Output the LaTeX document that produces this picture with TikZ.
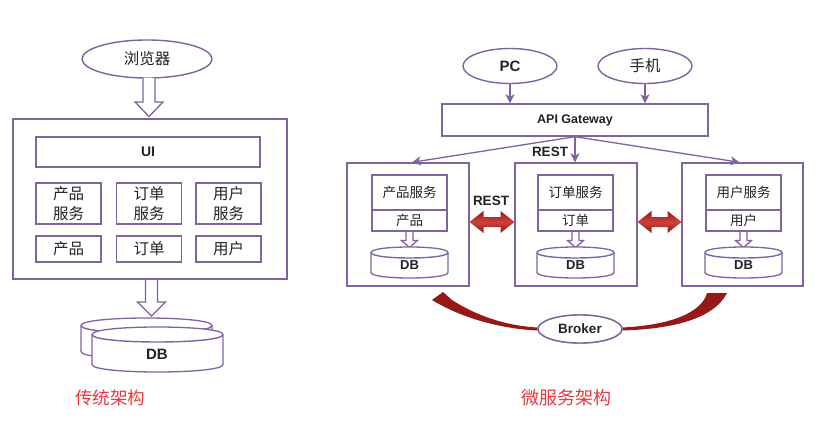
\documentclass[tikz,border=0pt]{standalone}
\usepackage{fontspec}
\setmainfont{Liberation Sans}
\newfontfamily\cjk{Noto Sans CJK SC}
\usetikzlibrary{arrows.meta,shapes.geometric}
\definecolor{pur}{RGB}{128,100,162}
\definecolor{txt}{RGB}{35,35,35}
\definecolor{redtxt}{RGB}{232,56,62}
\definecolor{darkred}{RGB}{150,25,25}
\definecolor{litred}{RGB}{205,65,60}
\newcommand\dbcyl[5]{%
  \path[hollow] ({#1-#3},{#2+#4}) -- ({#1-#3},{#5-#4}) .. controls ({#1-#3},{#5+#4/3}) and ({#1+#3},{#5+#4/3}) .. ({#1+#3},{#5-#4}) -- ({#1+#3},{#2+#4}) .. controls ({#1+#3},{#2-#4/3}) and ({#1-#3},{#2-#4/3}) .. cycle;
  \draw[pur,line width=1.4pt] ({#1-#3},{#2+#4}) .. controls ({#1-#3},{#2+#4*7/3}) and ({#1+#3},{#2+#4*7/3}) .. ({#1+#3},{#2+#4});
}
\newcommand\dblarrow[3]{% x1 x2 y
  \path[redarrow] (#1,#3) -- ({#1+14},{#3-11}) -- ({#1+14},{#3-5}) -- ({#2-14},{#3-5}) -- ({#2-14},{#3-11}) -- (#2,#3) -- ({#2-14},{#3+11}) -- ({#2-14},{#3+5}) -- ({#1+14},{#3+5}) -- ({#1+14},{#3+11}) -- cycle;
}
\newcommand\smallhollow[3]{% cx y1 y2
  \path[hollow] ({#1-3.5},#2) -- ({#1-3.5},{#3-7}) -- ({#1-8},{#3-7}) -- (#1,#3) -- ({#1+8},{#3-7}) -- ({#1+3.5},{#3-7}) -- ({#1+3.5},#2);
}
\tikzset{
  box/.style={draw=pur,line width=1.4pt,fill=white,inner sep=0pt,text=txt},
  ell/.style={ellipse,draw=pur,line width=1.4pt,fill=white,inner sep=0pt,text=txt},
  hollow/.style={draw=pur,line width=1.3pt,fill=white,line join=miter},
  conn/.style={draw=pur,line width=1.3pt,-{Stealth[length=9pt,width=9pt,inset=2.5pt]}},
  redarrow/.style={top color=darkred,bottom color=darkred,middle color=litred},
  swoosh/.style={fill=darkred},
  zhL/.style={font=\cjk\fontsize{15.5}{18}\selectfont},
  zhR/.style={font=\cjk\fontsize{13.5}{16}\selectfont},
  boldtext/.style={font=\bfseries\fontsize{13.5}{16}\selectfont,text=txt},
  captext/.style={font=\cjk\fontsize{17.5}{20}\selectfont,text=redtxt},
}
\begin{document}
\begin{tikzpicture}[x=1pt,y=-1pt]
\useasboundingbox[fill=white] (0,0) rectangle (815,428);
% ---------- traditional ----------
\node[ell,minimum width=130,minimum height=38,zhL] (browser) at (147,59) {浏览器};
\node[box,minimum width=274,minimum height=160] (big) at (150,199) {};
\node[box,minimum width=224,minimum height=30,font=\bfseries\fontsize{14}{16}\selectfont] (ui) at (148,152) {UI};
\node[box,minimum width=65,minimum height=41,zhL,align=center] (ps) at (68.5,203.5) {产品\\[1.5pt]服务};
\node[box,minimum width=65,minimum height=41,zhL,align=center] (os) at (149,203.5) {订单\\[1.5pt]服务};
\node[box,minimum width=65,minimum height=41,zhL,align=center] (us) at (228.5,203.5) {用户\\[1.5pt]服务};
\node[box,minimum width=65,minimum height=26,zhL] (pd) at (68.5,249) {产品};
\node[box,minimum width=65,minimum height=26,zhL] (od) at (149,249) {订单};
\node[box,minimum width=65,minimum height=26,zhL] (ud) at (228.5,249) {用户};
\path[hollow] (143,78) -- (143,102) -- (135,102) -- (149,116.5) -- (163,102) -- (155,102) -- (155,78);
\path[hollow] (145.5,280) -- (145.5,302) -- (137.5,302) -- (151.5,316) -- (165.5,302) -- (157.5,302) -- (157.5,280);
\dbcyl{146.5}{318}{65.5}{7.5}{359}
\dbcyl{157.5}{327}{65.5}{7.5}{372}
\node[boldtext,font=\bfseries\fontsize{15}{17}\selectfont] (db0) at (157,354) {DB};
\node[captext] (capL) at (110,398) {传统架构};
% ---------- microservices ----------
\node[ell,minimum width=94,minimum height=35,font=\bfseries\fontsize{15}{17}\selectfont] (pc) at (510,66) {PC};
\node[ell,minimum width=94,minimum height=35,font=\cjk\fontsize{15.5}{18}\selectfont] (mob) at (645,66) {手机};
\node[box,minimum width=266,minimum height=32,font=\bfseries\fontsize{12.5}{15}\selectfont] (gw) at (575,120) {API Gateway};
\draw[conn] (pc.south) -- (pc.south |- gw.north);
\draw[conn] (mob.south) -- (mob.south |- gw.north);
\node[box,minimum width=122,minimum height=123] (s1) at (408,224.5) {};
\node[box,minimum width=122,minimum height=123] (s2) at (576,224.5) {};
\node[box,minimum width=121,minimum height=123] (s3) at (742.5,224.5) {};
\draw[conn] (gw.south) -- ([xshift=4pt]s1.north);
\draw[conn] (gw.south) -- (gw.south |- s2.north);
\draw[conn] (gw.south) -- ([xshift=-3pt]s3.north);
\node[boldtext] (rest1) at (550,152) {REST};
\foreach \n/\cx/\a/\b in {1/409.5/产品服务/产品, 2/575.5/订单服务/订单, 3/743.5/用户服务/用户}{
  \node[box,minimum width=75,minimum height=35,zhR] (t\n) at (\cx,192.5) {\a};
  \node[box,minimum width=75,minimum height=21,zhR] (b\n) at (\cx,220.5) {\b};
  \smallhollow{\cx}{232}{247.5}
  \dbcyl{\cx}{247}{38.5}{5.5}{278}
  \node[boldtext,font=\bfseries\fontsize{13}{15}\selectfont] (db\n) at (\cx,265) {DB};
}
\dblarrow{469.5}{514.5}{222}
\dblarrow{637.5}{681.5}{222}
\node[boldtext] (rest2) at (491,201) {REST};
\node[ell,minimum width=84,minimum height=28,boldtext] (broker) at (580,329) {Broker};
\path[swoosh] ([yshift=-1.5pt]broker.west) .. controls (505,329) and (465,320) .. (432,300) -- (443,292) -- (452,300) .. controls (480,318) and (510,326) .. ([yshift=1.5pt]broker.west) -- cycle;
\path[swoosh] ([yshift=-1.5pt]broker.east) .. controls (672,329) and (714,319) .. (727,293) -- (707,293) .. controls (702,312) and (672,325) .. ([yshift=1.5pt]broker.east) -- cycle;
\node[ell,minimum width=84,minimum height=28,boldtext] at (broker) {Broker};
\node[captext,font=\cjk\fontsize{18}{21}\selectfont] (capR) at (566,398) {微服务架构};
\end{tikzpicture}
\end{document}
